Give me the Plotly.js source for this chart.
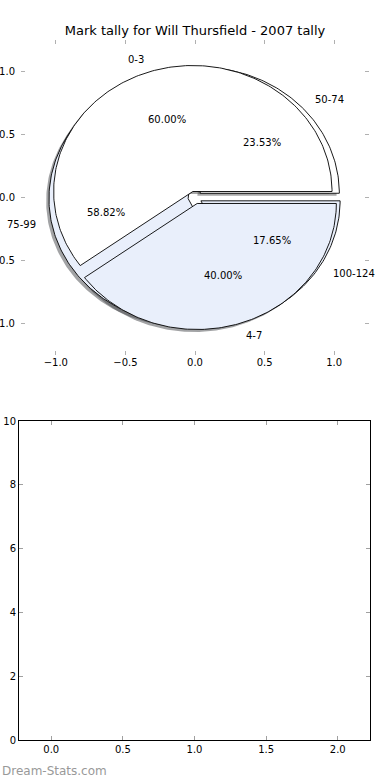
<!DOCTYPE html>
<html>
<head>
<meta charset="utf-8">
<script src="https://cdn.plot.ly/plotly-3.0.1.min.js"></script>
<style>html,body{margin:0;padding:0;background:#fff;}#chart{width:390px;height:780px;}</style>
</head>
<body>
<div id="chart"></div>
<script>
// ---- data ----
const chartTitle = 'Mark tally for Will Thursfield - 2007 tally';
const pieALabels = ['0-3', '4-7'];
const pieAValues = [3, 2];
const pieBLabels = ['50-74', '75-99', '100-124'];
const pieBValues = [4, 10, 3];
const pieTicks = [-1, -0.5, 0, 0.5, 1];
const pieTickText = ['\u22121.0', '\u22120.5', '0.0', '0.5', '1.0'];
const lowerXTicks = [0, 0.5, 1, 1.5, 2];
const lowerXTickText = ['0.0', '0.5', '1.0', '1.5', '2.0'];
const lowerYTicks = [0, 2, 4, 6, 8, 10];
const watermark = 'Dream-Stats.com';

// ---- styles ----
const pieAColors = ['#ffffff', '#e9effb'];
const pieBColors = ['#ffffff', '#e9effb', '#e9effb'];
const explode = 0.05;
const FONT = 'DejaVu Sans, sans-serif';

function hexToRgb(h) {
  return [parseInt(h.slice(1,3),16), parseInt(h.slice(3,5),16), parseInt(h.slice(5,7),16)];
}

function wedgePath(cx, cy, t1, t2) {
  const xs = [cx], ys = [cy];
  const n = Math.max(4, Math.ceil(t2 - t1));
  for (let i = 0; i <= n; i++) {
    const a = (t1 + (t2 - t1) * i / n) * Math.PI / 180;
    xs.push(cx + Math.cos(a));
    ys.push(cy + Math.sin(a));
  }
  xs.push(cx); ys.push(cy);
  return {xs, ys};
}

function buildPie(labels, values, colors) {
  const total = values.reduce((a, b) => a + b, 0);
  let acc = 0;
  const shadows = [], wedges = [], annos = [];
  values.forEach((v, i) => {
    const t1 = 360 * acc / total;
    acc += v;
    const t2 = 360 * acc / total;
    const tm = (t1 + t2) / 2 * Math.PI / 180;
    const cx = explode * Math.cos(tm), cy = explode * Math.sin(tm);
    const p = wedgePath(cx, cy, t1, t2);
    const rgb = hexToRgb(colors[i]);
    shadows.push({
      type: 'scatter', mode: 'lines', x: p.xs.map(x => x - 0.02), y: p.ys.map(y => y - 0.02),
      fill: 'toself', fillcolor: `rgba(${Math.round(rgb[0]*0.3)},${Math.round(rgb[1]*0.3)},${Math.round(rgb[2]*0.3)},0.5)`,
      line: {width: 0}, hoverinfo: 'skip', showlegend: false, xaxis: 'x', yaxis: 'y'
    });
    wedges.push({
      type: 'scatter', mode: 'lines', x: p.xs, y: p.ys,
      fill: 'toself', fillcolor: colors[i],
      line: {color: '#000', width: 0.9}, hoverinfo: 'skip', showlegend: false, xaxis: 'x', yaxis: 'y'
    });
    const lx = cx + 1.1 * Math.cos(tm), ly = cy + 1.1 * Math.sin(tm);
    annos.push({
      x: lx, y: ly, xref: 'x', yref: 'y', text: labels[i], showarrow: false,
      xanchor: lx > 0 ? 'left' : 'right', yanchor: 'middle',
      font: {family: FONT, size: 10, color: '#000'}
    });
    annos.push({
      x: cx + 0.6 * Math.cos(tm), y: cy + 0.6 * Math.sin(tm), xref: 'x', yref: 'y',
      text: (100 * v / total).toFixed(2) + '%', showarrow: false,
      xanchor: 'center', yanchor: 'middle',
      font: {family: FONT, size: 10, color: '#000'}
    });
  });
  return {shadows, wedges, annos};
}

const pieB = buildPie(pieBLabels, pieBValues, pieBColors);
const pieA = buildPie(pieALabels, pieAValues, pieAColors);

const data = [
  ...pieB.shadows, ...pieA.shadows, ...pieB.wedges, ...pieA.wedges,
  {type: 'scatter', mode: 'markers', x: [], y: [], xaxis: 'x2', yaxis: 'y2', showlegend: false}
];

const W = 390, H = 780;
const tickFont = {family: FONT, size: 10, color: '#000'};
const layout = {
  width: W, height: H,
  margin: {l: 0, r: 0, t: 0, b: 0},
  paper_bgcolor: '#fff', plot_bgcolor: 'rgba(0,0,0,0)',
  showlegend: false,
  title: {text: chartTitle, x: 0.5, xref: 'paper', xanchor: 'center',
          y: 1 - 30 / H, yref: 'paper', yanchor: 'middle',
          font: {family: FONT, size: 13, color: '#000'}},
  xaxis: {domain: [21 / W, 369 / W], range: [-1.25, 1.25], anchor: 'y',
          tickvals: pieTicks, ticktext: pieTickText, ticks: 'inside', ticklen: 4,
          tickcolor: '#b0b0b0', tickwidth: 1, mirror: 'ticks', showline: false,
          showgrid: false, zeroline: false, tickfont: tickFont, fixedrange: true},
  yaxis: {domain: [1 - 355 / H, 1 - 40 / H], range: [-1.25, 1.25], anchor: 'x',
          tickvals: pieTicks, ticktext: pieTickText, ticks: 'inside', ticklen: 4,
          tickcolor: '#b0b0b0', tickwidth: 1, mirror: 'ticks', showline: false,
          showgrid: false, zeroline: false, tickfont: tickFont, fixedrange: true,
          ticklabelstandoff: 5},
  xaxis2: {domain: [19 / W, 370 / W], range: [-0.225, 2.225], anchor: 'y2',
           tickvals: lowerXTicks, ticktext: lowerXTickText, ticks: 'inside', ticklen: 4,
           tickcolor: '#a0a0a0', tickwidth: 1, mirror: 'ticks', showline: true,
           linecolor: '#000', linewidth: 1, showgrid: false, zeroline: false,
           tickfont: tickFont, fixedrange: true},
  yaxis2: {domain: [1 - 740 / H, 1 - 421 / H], range: [0, 10], anchor: 'x2',
           tickvals: lowerYTicks, ticks: 'inside', ticklen: 4,
           tickcolor: '#a0a0a0', tickwidth: 1, mirror: 'ticks', showline: true,
           linecolor: '#000', linewidth: 1, showgrid: false, zeroline: false,
           tickfont: tickFont, fixedrange: true},
  annotations: [
    ...pieB.annos, ...pieA.annos,
    {x: 0, y: 1 - 771 / H, xref: 'paper', yref: 'paper', xanchor: 'left', yanchor: 'middle',
     text: watermark, showarrow: false,
     font: {family: FONT, size: 12, color: '#999999'}}
  ]
};

Plotly.newPlot('chart', data, layout, {displayModeBar: false, staticPlot: true});
</script>
</body>
</html>
